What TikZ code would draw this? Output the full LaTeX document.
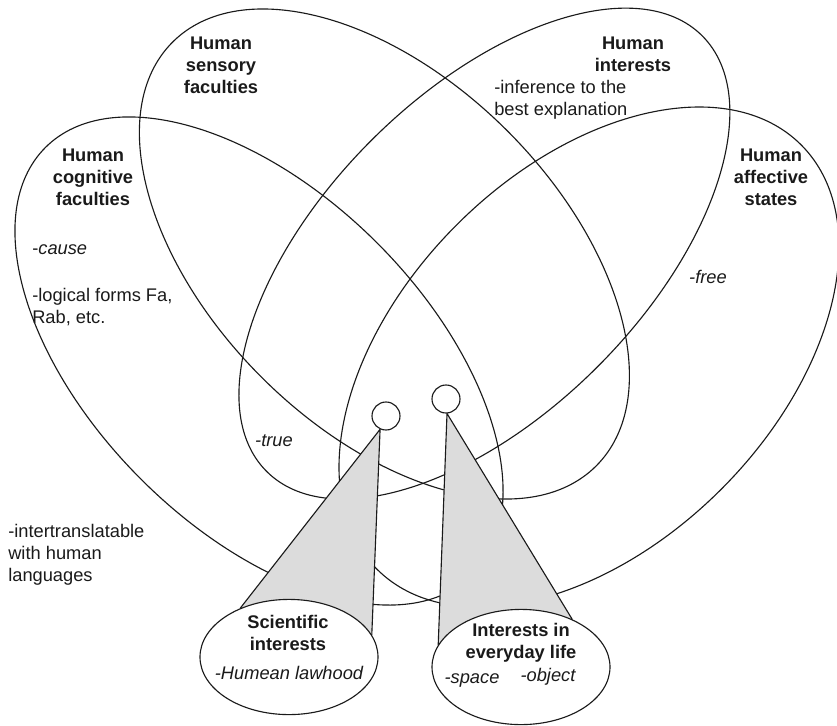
\documentclass[tikz,border=0pt]{standalone}
\usepackage{fontspec}
\setmainfont{Liberation Sans}
\usetikzlibrary{positioning,calc,backgrounds,shapes.geometric}
\definecolor{VennInk}{HTML}{1A1A1A}
\definecolor{VennCone}{HTML}{DCDCDC}
\tikzset{
  venn/.style={draw=VennInk, ellipse, line width=0.8pt, inner sep=0pt},
  focus/.style={draw=VennInk, ellipse, fill=white, line width=0.8pt, inner sep=0pt,
                minimum width=4.45cm, minimum height=2.88cm},
  eye/.style={draw=VennInk, circle, fill=white, line width=0.8pt,
              minimum size=0.7cm, inner sep=0pt},
  cone/.style={draw=VennInk, fill=VennCone, line width=0.8pt, line join=round},
  setname/.style={font=\fontsize{13}{15.6}\selectfont\bfseries, align=center,
                  inner sep=0pt, text=VennInk},
  plainnote/.style={font=\fontsize{13}{15.6}\selectfont, align=left,
                    inner sep=0pt, text=VennInk},
  termnote/.style={font=\fontsize{13}{15.6}\selectfont\itshape,
                   inner sep=0pt, text=VennInk},
}

\begin{document}
\begin{tikzpicture}
  \useasboundingbox (0,0) rectangle (20.925,-18.125);

  % ---- The four overlapping sets ----
  \begin{scope}[on background layer]
    \node[venn, minimum width=15.1cm,  minimum height=8.35cm, rotate=-45] (cog)  at (6.475,-9.025) {};
    \node[venn, minimum width=14.98cm, minimum height=8.7cm,  rotate=-45] (sens) at (9.61,-6.35)   {};
    \node[venn, minimum width=15.4cm,  minimum height=8.0cm,  rotate=45]  (intr) at (12.11,-6.34)  {};
    \node[venn, minimum width=15.0cm,  minimum height=9.35cm, rotate=45]  (aff)  at (14.725,-8.925) {};
  \end{scope}

  % ---- Eyes and the two focus ellipses ----
  \node[eye] (eyesci)  at (9.65,-10.4)   {};
  \node[eye] (eyelife) at (11.15,-9.975) {};
  \node[focus] (sci)  at (7.225,-16.425) {};
  \node[focus] (life) at (13.025,-16.675) {};

  % ---- Cones (behind eyes and ellipses) ----
  \begin{scope}[on background layer]
    \draw[cone] (eyesci.-114) -- (sci.135) -- (sci.15) -- cycle;
    \draw[cone] (eyelife.-86) -- (life.165) -- (life.43) -- cycle;
  \end{scope}

  % ---- Set names ----
  \node[setname] (senslbl) at (5.525,-1.625)  {Human\\sensory\\faculties};
  \node[setname] (coglbl)  at (2.325,-4.425)  {Human\\cognitive\\faculties};
  \node[setname] (intlbl)  at (15.825,-1.35)  {Human\\interests};
  \node[setname] (afflbl)  at (19.275,-4.425) {Human\\affective\\states};

  % ---- Entries ----
  \node[plainnote, anchor=west] (infer)  at (12.35,-2.5)  {-inference to the\\best explanation};
  \node[plainnote, anchor=west] (cause)  at (0.8,-6.25)   {-\textit{cause}};
  \node[plainnote, anchor=west] (logic)  at (0.8,-7.675)  {-logical forms Fa,\\Rab, etc.};
  \node[termnote] (free) at (17.7,-6.925)  {-free};
  \node[termnote] (true) at (6.85,-11.025) {-true};
  \node[plainnote, anchor=west] (transl) at (0.2,-13.875) {-intertranslatable\\with human\\languages};

  % ---- Texts in the focus ellipses ----
  \node[setname]  (scilbl)  at (7.2,-15.825)   {Scientific\\interests};
  \node[termnote] (humean)  at (7.225,-16.825) {-Humean lawhood};
  \node[setname]  (lifelbl) at (13.025,-16.075) {Interests in\\everyday life};
  \node[termnote] (space)   at (11.8,-17.0)    {-space};
  \node[termnote] (object)  at (13.7,-16.925)  {-object};

\end{tikzpicture}
\end{document}
